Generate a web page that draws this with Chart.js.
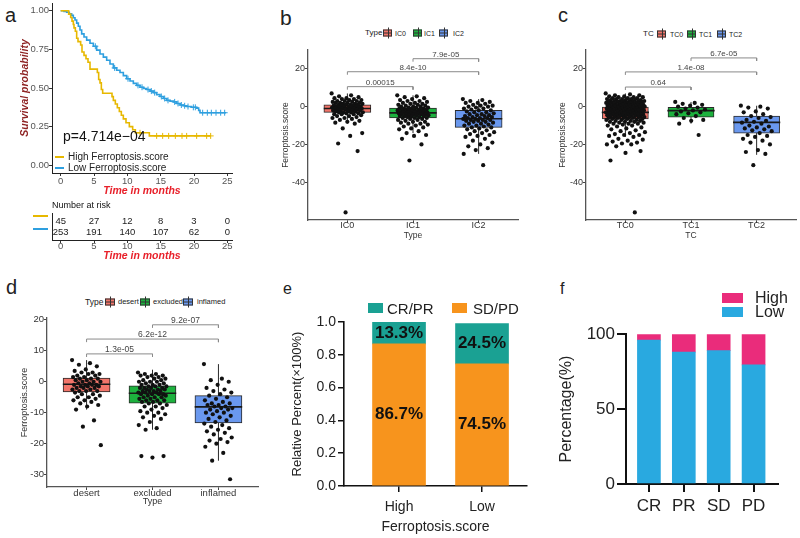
<!DOCTYPE html>
<html>
<head>
<meta charset="utf-8">
<script src="https://cdn.jsdelivr.net/npm/chart.js@4.4.1/dist/chart.umd.min.js"></script>
<style>
body{margin:0;background:#fff}
#wrap{position:relative;width:800px;height:538px;overflow:hidden;font-family:'Liberation Sans',Arial,sans-serif;color:#222}
#wrap canvas{position:absolute}
.t{position:absolute;line-height:1;white-space:nowrap;transform:translateY(-50%)}
.g{position:absolute;box-sizing:border-box;border:1px solid #333;transform:translateY(-50%)}
.g::before{content:'';position:absolute;left:0;right:0;top:50%;height:1px;margin-top:-0.5px;background:#333}
.g::after{content:'';position:absolute;left:50%;top:-3px;bottom:-3px;width:1px;background:#333}
.sw{position:absolute}
</style>
</head>
<body>
<div id="wrap">
  <canvas id="cA"></canvas>
  <canvas id="cR"></canvas>
  <canvas id="cB"></canvas>
  <canvas id="cC"></canvas>
  <canvas id="cD"></canvas>
  <canvas id="cE"></canvas>
  <canvas id="cF"></canvas>
</div>
<script>
// ---------- data ----------
// a: Kaplan-Meier
const hiTime = [0, 1.2, 1.5, 1.7, 1.9, 2.0, 2.2, 2.4, 2.6, 3.0, 3.2, 3.5, 3.8, 4.1, 4.4, 5.5, 5.7, 5.9, 6.1, 6.3, 7.7, 7.9, 8.2, 8.5, 8.8, 9.1, 9.4, 9.8, 10.3, 10.8, 11.2, 13.3, 22.5]
const hiSurv = [1, 0.978, 0.956, 0.933, 0.911, 0.889, 0.867, 0.822, 0.80, 0.778, 0.733, 0.711, 0.689, 0.667, 0.622, 0.60, 0.555, 0.533, 0.49, 0.466, 0.444, 0.42, 0.396, 0.372, 0.348, 0.324, 0.30, 0.275, 0.25, 0.23, 0.21, 0.19, 0.19]
const loTime = [0, 0.5, 0.9, 1.3, 1.65, 1.9, 2.15, 2.4, 2.65, 2.9, 3.15, 3.5, 3.9, 4.4, 4.9, 5.4, 5.9, 6.4, 6.9, 7.4, 7.9, 8.4, 8.9, 9.4, 9.9, 10.4, 10.9, 11.4, 11.9, 12.4, 12.9, 13.4, 13.9, 14.4, 14.9, 15.4, 15.9, 16.4, 16.9, 17.4, 17.9, 18.4, 18.9, 19.6, 20.4, 20.7, 20.9, 24.8]
const loSurv = [1, 0.996, 0.99, 0.98, 0.97, 0.955, 0.94, 0.92, 0.90, 0.875, 0.85, 0.83, 0.81, 0.79, 0.77, 0.745, 0.72, 0.70, 0.68, 0.655, 0.63, 0.615, 0.60, 0.58, 0.56, 0.545, 0.53, 0.517, 0.505, 0.497, 0.49, 0.48, 0.47, 0.457, 0.445, 0.432, 0.42, 0.415, 0.41, 0.40, 0.39, 0.385, 0.38, 0.375, 0.37, 0.355, 0.34, 0.34]
const hiCensor = [11.9, 14.4, 15.3, 16.2, 17.2, 18.2, 18.9, 20.4, 21.9, 22.5]
const loCensor = [5.2, 8.1, 10.1, 11.6, 12.2, 13.1, 13.6, 14.1, 15.1, 15.6, 16.1, 17.1, 17.6, 18.1, 18.6, 19.1, 19.9, 20.2, 21.3, 22.0, 22.6, 23.3, 24.0, 24.6]
const kmTicksX = [0, 5, 10, 15, 20, 25]
const kmTicksY = [0, 0.25, 0.5, 0.75, 1]
const riskTimes = [0, 5, 10, 15, 20, 25]
const riskHigh = [45, 27, 12, 8, 3, 0]
const riskLow = [253, 191, 140, 107, 62, 0]

// b: IC groups
const icCats = ['IC0', 'IC1', 'IC2']
const icIC0 = [7, 6, 5.5, 5, 4.5, 4.5, 4, 4, 3.5, 3.5, 3, 3, 3, 2.5, 2.5, 2, 2, 2, 2, 1.5, 1.5, 1.5, 1, 1, 1, 1, 0.5, 0.5, 0.5, 0, 0, 0, 0, 0, -0.5, -0.5, -0.5, -0.5, -1, -1, -1, -1, -1, -1.5, -1.5, -1.5, -1.5, -2, -2, -2, -2, -2.5, -2.5, -2.5, -3, -3, -3, -3, -3.5, -3.5, -4, -4, -4, -4.5, -5, -5, -5.5, -6, -6, -6.5, -7, -7.5, -8, -8.5, -9, -11.5, -14, -15.5, -19.5, -23.5, -56]
const icIC1 = [6, 5.5, 5, 4.5, 4, 3.5, 3, 3, 2.5, 2, 2, 1.5, 1.5, 1, 1, 0.5, 0.5, 0, 0, 0, -0.5, -0.5, -0.5, -1, -1, -1, -1, -1.5, -1.5, -1.5, -2, -2, -2, -2, -2, -2.5, -2.5, -2.5, -2.5, -3, -3, -3, -3, -3, -3, -3.5, -3.5, -3.5, -3.5, -4, -4, -4, -4, -4, -4.5, -4.5, -4.5, -5, -5, -5, -5, -5.5, -5.5, -6, -6, -6, -6.5, -6.5, -7, -7, -7.5, -8, -8, -8.5, -9, -9, -9.5, -10, -10.5, -11, -11.5, -12, -13, -14, -15, -15.5, -17, -20, -28.5]
const icIC2 = [4, 3.5, 3, 2.5, 2, 2, 1.5, 1, 0.5, 0.5, 0, 0, -0.5, -1, -1, -1.5, -2, -2, -2.5, -3, -3, -3.5, -4, -4, -4.5, -4.5, -5, -5, -5.5, -5.5, -6, -6, -6, -6.5, -6.5, -7, -7, -7, -7.5, -7.5, -8, -8, -8.5, -9, -9, -9.5, -10, -10, -10.5, -11, -11, -11.5, -12, -12.5, -13, -13.5, -14, -14.5, -15, -15.5, -16, -17, -18, -19, -20, -21, -22, -23, -25, -31]
const icLo = [-8.5, -14, -25]
const icQ1 = [-3, -6, -11]
const icMed = [-1, -3.3, -6.4]
const icQ3 = [1, -0.7, -2]
const icHi = [7, 6, 4]
const icSigY = [10.6, 18.5, 25.4]
const icSigLab = ['0.00015', '8.4e-10', '7.9e-05']

// c: TC groups
const tcCats = ['TC0', 'TC1', 'TC2']
const tcTC0 = [7, 6.5, 6, 6, 5.5, 5.5, 5, 5, 5, 4.5, 4.5, 4.5, 4, 4, 4, 4, 3.5, 3.5, 3.5, 3.5, 3, 3, 3, 3, 3, 2.5, 2.5, 2.5, 2.5, 2.5, 2, 2, 2, 2, 2, 2, 1.5, 1.5, 1.5, 1.5, 1.5, 1, 1, 1, 1, 1, 1, 0.5, 0.5, 0.5, 0.5, 0.5, 0, 0, 0, 0, 0, 0, -0.5, -0.5, -0.5, -0.5, -0.5, -1, -1, -1, -1, -1, -1, -1.5, -1.5, -1.5, -1.5, -1.5, -2, -2, -2, -2, -2, -2, -2.5, -2.5, -2.5, -2.5, -2.5, -3, -3, -3, -3, -3, -3, -3.5, -3.5, -3.5, -3.5, -3.5, -4, -4, -4, -4, -4, -4.5, -4.5, -4.5, -4.5, -5, -5, -5, -5, -5, -5.5, -5.5, -5.5, -5.5, -6, -6, -6, -6, -6.5, -6.5, -6.5, -7, -7, -7, -7.5, -7.5, -7.5, -8, -8, -8, -8.5, -8.5, -9, -9, -9, -9.5, -10, -10, -10.5, -11, -11.5, -12, -12.5, -13, -13.5, -14, -14.5, -15, -15, -15.5, -16, -17, -17.5, -18, -18.5, -19, -19.5, -20, -20, -21, -23.5, -24.5, -28.5, -56]
const tcTC1 = [2.5, 2, 1.5, 1, 0.5, 0, -0.5, -1, -1.5, -2, -2.5, -3, -3.5, -4, -5, -6, -7, -7.5, -9, -15]
const tcTC2 = [0.5, 0, -0.5, -1, -2.5, -3, -4, -5, -5.5, -6, -7, -7.5, -8, -8.5, -9, -10, -10.5, -11, -11.5, -12, -12.5, -13, -14, -15, -15.5, -16, -17, -18, -19, -20, -23, -24, -25, -31]
const tcLo = [-16, -9, -25.5]
const tcQ1 = [-6.5, -5.5, -14]
const tcMed = [-3, -2.1, -8.3]
const tcQ3 = [0, -0.3, -5]
const tcHi = [7, 2.5, 0.5]
const tcSigY = [10.4, 18.4, 25.8]
const tcSigLab = ['0.64', '1.4e-08', '6.7e-05']

// d: immune phenotype
const imCats = ['desert', 'excluded', 'inflamed']
const imDesert = [7, 6, 5.5, 5, 4, 3.5, 3, 3, 2.5, 2.5, 2, 2, 1.5, 1.5, 1, 1, 1, 0.5, 0.5, 0, 0, 0, -0.5, -0.5, -1, -1, -1, -1, -1.5, -1.5, -1.5, -2, -2, -2, -2.5, -2.5, -3, -3, -3, -3.5, -4, -4, -4.5, -5, -5, -5.5, -6, -6, -6.5, -7, -7.5, -8, -9, -12.5, -14.5, -20.5]
const imExcluded = [3, 2.5, 2.5, 2, 2, 2, 1.5, 1.5, 1, 1, 0.5, 0.5, 0, 0, 0, -0.5, -0.5, -1, -1, -1, -1.5, -1.5, -1.5, -2, -2, -2, -2, -2.5, -2.5, -2.5, -3, -3, -3, -3, -3.5, -3.5, -3.5, -4, -4, -4, -4, -4.5, -4.5, -5, -5, -5, -5.5, -5.5, -6, -6, -6, -6.5, -6.5, -7, -7, -7.5, -8, -8, -8.5, -9, -9.5, -10, -10, -10.5, -11, -11.5, -12, -13, -14, -15, -15.5, -24, -24.5, -24]
const imInflamed = [5.7, 1, 0.5, 0, -1, -2, -2.5, -3, -3.5, -4, -4.5, -5, -5.5, -6, -6.5, -7, -7, -7.5, -7.5, -8, -8, -8.5, -8.5, -9, -9, -9.5, -10, -10, -10.5, -11, -11.5, -12, -12.5, -13, -13.5, -14, -14.5, -15, -15.5, -16, -16.5, -17, -18, -18.5, -19, -19.5, -20, -21, -23, -25.5, -31.5]
const imLo = [-9, -15.5, -25.5]
const imQ1 = [-3.3, -6.9, -13.3]
const imMed = [-0.8, -3.7, -8.1]
const imQ3 = [1.2, -1.3, -4.5]
const imHi = [7, 3.9, 5.7]
const imSigY = [9.0, 13.8, 18.4]
const imSigLab = ['1.3e-05', '6.2e-12', '9.2e-07']

const sigPairs = [[1, 2], [1, 3], [2, 3]]
const boxTicks = [-40, -20, 0, 20]
const imTicks = [-30, -20, -10, 0, 10, 20]

// e: response by score group
const eCats = ['High', 'Low']
const eSDPD = [0.867, 0.745]
const eCRPR = [0.133, 0.245]
const eTicks = [0, 0.2, 0.4, 0.6, 0.8, 1.0]

// f: score group by response
const fCats = ['CR', 'PR', 'SD', 'PD']
const fLow = [96, 88, 89, 79.5]
const fHigh = [4, 12, 11, 20.5]
const fTicks = [0, 50, 100]

// ---------- helpers ----------
Chart.defaults.font.family = "'Liberation Sans', Arial, sans-serif"
Chart.defaults.color = '#333'
const wrap = document.getElementById('wrap')

function setup(id, L, T, R, B, yW, xH, padT, padR) {
  const c = document.getElementById(id)
  const left = L - yW, top = T - padT
  const w = R + padR - left, h = B + xH - top
  c.width = w; c.height = h
  c.style.left = left + 'px'; c.style.top = top + 'px'
  c.style.width = w + 'px'; c.style.height = h + 'px'
  return { ctx: c.getContext('2d'), pad: { top: padT, right: padR, left: 0, bottom: 0 } }
}
function base(pad) {
  return {
    responsive: false, animation: false, devicePixelRatio: 1,
    layout: { padding: pad },
    plugins: { legend: { display: false }, tooltip: { enabled: false } }
  }
}
function txt(x, y, s, css) {
  const d = document.createElement('div')
  d.className = 't'; d.textContent = s
  d.style.cssText = 'left:' + x + 'px;top:' + y + 'px;' + (css || '')
  wrap.appendChild(d)
}
function glyph(x, y, w, h, col) {
  const d = document.createElement('div')
  d.className = 'g'
  d.style.cssText = 'left:' + x + 'px;top:' + y + 'px;width:' + w + 'px;height:' + h + 'px;background:' + col
  wrap.appendChild(d)
}
function sw(x, y, w, h, col) {
  const d = document.createElement('div')
  d.className = 'sw'
  d.style.cssText = 'left:' + x + 'px;top:' + y + 'px;width:' + w + 'px;height:' + h + 'px;background:' + col
  wrap.appendChild(d)
}
function survAt(T, S, t) {
  let s = S[0]
  for (let i = 0; i < T.length; i++) if (T[i] <= t) s = S[i]
  return s
}
// spread for jittered dots (position only)
function jit(i, w) { return ((i * 0.6180339887) % 1 - 0.5) * 2 * w }
function fixTicks(vals) { return s => { s.ticks = vals.map(v => ({ value: v })) } }

// ---------- a: KM ----------
const A = setup('cA', 52, 3, 232, 173, 33, 24, 10, 8)
new Chart(A.ctx, {
  type: 'scatter',
  data: {
    datasets: [
      { type: 'line', data: hiTime.map((t, i) => ({ x: t, y: hiSurv[i] })), stepped: true, borderColor: '#E7B800', borderWidth: 1.6, pointRadius: 0 },
      { type: 'line', data: loTime.map((t, i) => ({ x: t, y: loSurv[i] })), stepped: true, borderColor: '#2E9FDF', borderWidth: 1.6, pointRadius: 0 },
      { data: hiCensor.map(t => ({ x: t, y: survAt(hiTime, hiSurv, t) })), pointStyle: 'cross', pointRadius: 3, borderColor: '#E7B800', borderWidth: 1 },
      { data: loCensor.map(t => ({ x: t, y: survAt(loTime, loSurv, t) })), pointStyle: 'cross', pointRadius: 3, borderColor: '#2E9FDF', borderWidth: 1 }
    ]
  },
  options: Object.assign(base(A.pad), {
    scales: {
      x: {
        type: 'linear', min: -1.3, max: 25.7, bounds: 'data',
        afterBuildTicks: fixTicks(kmTicksX), afterFit: s => { s.height = 24 },
        grid: { drawOnChartArea: false, tickLength: 3, color: '#333' },
        border: { color: '#222', width: 1 },
        ticks: { font: { size: 9.5 }, color: '#555', padding: 0, autoSkip: false, maxRotation: 0 },
        title: { display: true, text: 'Time in months', color: '#E8202A', font: { size: 10.5, weight: 'bold', style: 'italic' }, padding: 0 }
      },
      y: {
        min: -0.05, max: 1.05, bounds: 'data',
        afterBuildTicks: fixTicks(kmTicksY), afterFit: s => { s.width = 33 },
        grid: { drawOnChartArea: false, tickLength: 3, color: '#333' },
        border: { color: '#222', width: 1 },
        ticks: { font: { size: 9.5 }, color: '#555', padding: 0, callback: v => v.toFixed(2) },
        title: { display: true, text: 'Survival probability', color: '#8E2323', font: { size: 10.5, weight: 'bold', style: 'italic' }, padding: 0 }
      }
    }
  })
})

// risk table
const riskLabels = {
  id: 'riskLabels',
  afterDatasetsDraw(chart) {
    const ctx = chart.ctx
    ctx.save()
    ctx.font = "9.5px 'Liberation Sans', Arial, sans-serif"
    ctx.fillStyle = '#222'; ctx.textAlign = 'center'; ctx.textBaseline = 'middle'
    chart.data.datasets.forEach((ds, di) => {
      chart.getDatasetMeta(di).data.forEach((el, i) => ctx.fillText(String(ds.counts[i]), el.x, el.y))
    })
    ctx.restore()
  }
}
const R = setup('cR', 52, 213, 232, 240, 4, 22, 2, 8)
new Chart(R.ctx, {
  type: 'scatter',
  data: {
    datasets: [
      { data: riskTimes.map(t => ({ x: t, y: 2 })), counts: riskHigh, pointRadius: 0 },
      { data: riskTimes.map(t => ({ x: t, y: 1 })), counts: riskLow, pointRadius: 0 }
    ]
  },
  options: Object.assign(base(R.pad), {
    scales: {
      x: {
        type: 'linear', min: -1.3, max: 25.7, bounds: 'data',
        afterBuildTicks: fixTicks(riskTimes), afterFit: s => { s.height = 22 },
        grid: { drawOnChartArea: false, tickLength: 3, color: '#333' },
        border: { color: '#222', width: 1 },
        ticks: { font: { size: 9.5 }, color: '#555', padding: -2.5, autoSkip: false, maxRotation: 0 },
        title: { display: true, text: 'Time in months', color: '#E8202A', font: { size: 10.5, weight: 'bold', style: 'italic' }, padding: 0 }
      },
      y: {
        min: 0.3, max: 2.7, afterFit: s => { s.width = 4 },
        grid: { drawOnChartArea: false, drawTicks: false },
        border: { color: '#222', width: 1 },
        ticks: { display: false }
      }
    }
  }),
  plugins: [riskLabels]
})

// ---------- box plots b, c, d ----------
const sigLabels = {
  id: 'sigLabels',
  afterDatasetsDraw(chart, args, o) {
    const ctx = chart.ctx, x = chart.scales.x, y = chart.scales.y
    ctx.save()
    ctx.font = o.size + "px 'Liberation Sans', Arial, sans-serif"
    ctx.fillStyle = '#444'; ctx.textAlign = 'center'; ctx.textBaseline = 'alphabetic'
    o.labels.forEach((lab, k) => {
      const px = (x.getPixelForValue(sigPairs[k][0]) + x.getPixelForValue(sigPairs[k][1])) / 2
      ctx.fillText(lab, px, y.getPixelForValue(o.ys[k]) - 2)
    })
    ctx.restore()
  }
}

function boxChart(id, area, cats, groups, lo, q1, med, q3, hi, cols, sigY, sigLab, yMin, yMax, yTicks, o) {
  const S = setup(id, area[0], area[1], area[2], area[3], o.yW, o.xH, 10, o.padR)
  const BW = 0.72
  const dots = []
  groups.forEach((vals, g) => vals.forEach((v, i) => dots.push({ x: g + 1 + jit(i, o.jw[g]), y: v })))
  const meds = [], whisk = [], br = []
  cats.forEach((c, g) => {
    meds.push({ x: g + 1 - BW / 2, y: med[g] }, { x: g + 1 + BW / 2, y: med[g] }, { x: g + 1, y: null })
    whisk.push({ x: g + 1, y: lo[g] }, { x: g + 1, y: hi[g] }, { x: g + 1, y: null })
  })
  sigPairs.forEach((p, k) => {
    br.push({ x: p[0], y: sigY[k] - o.tk }, { x: p[0], y: sigY[k] }, { x: p[1], y: sigY[k] }, { x: p[1], y: sigY[k] - o.tk }, { x: p[1], y: null })
  })
  new Chart(S.ctx, {
    type: 'bar',
    data: {
      datasets: [
        { type: 'scatter', data: dots, pointRadius: 2.1, backgroundColor: '#111', borderWidth: 0, order: 0 },
        { type: 'line', data: meds, borderColor: '#1a1a1a', borderWidth: 1.6, pointRadius: 0, order: 1 },
        { type: 'bar', data: cats.map((c, g) => ({ x: g + 1, y: [q1[g], q3[g]] })), backgroundColor: cols, borderColor: '#2a2a2a', borderWidth: 1, borderSkipped: false, barThickness: o.barPx, order: 2 },
        { type: 'line', data: whisk, borderColor: '#2a2a2a', borderWidth: 1, pointRadius: 0, order: 3 },
        { type: 'line', data: br, borderColor: '#8a8a8a', borderWidth: 1, pointRadius: 0, order: 4 }
      ]
    },
    options: Object.assign(base(S.pad), {
      plugins: { legend: { display: false }, tooltip: { enabled: false }, sigLabels: { labels: sigLab, ys: sigY, size: o.sigSize } },
      scales: {
        x: {
          type: 'linear', min: 0.4, max: 3.6, offset: false, bounds: 'data',
          afterBuildTicks: fixTicks([1, 2, 3]), afterFit: s => { s.height = o.xH },
          grid: { drawOnChartArea: false, offset: false, tickLength: 3, color: '#444' },
          border: { color: '#555', width: 1.3 },
          ticks: { font: { size: o.tickSize }, color: '#333', padding: o.xPad, autoSkip: false, maxRotation: 0, callback: (v, i) => cats[i] },
          title: { display: true, text: o.xTitle, color: '#333', font: { size: o.titleSize }, padding: 0 }
        },
        y: {
          min: yMin, max: yMax, bounds: 'data',
          afterBuildTicks: fixTicks(yTicks), afterFit: s => { s.width = o.yW },
          grid: { drawOnChartArea: false, tickLength: 3, color: '#444' },
          border: { color: '#555', width: 1.3 },
          ticks: { font: { size: o.tickSize }, color: '#333', padding: 0 },
          title: { display: true, text: 'Ferroptosis.score', color: '#333', font: { size: o.titleSize }, padding: 0 }
        }
      }
    }),
    plugins: [sigLabels]
  })
}

const boxCols = ['#F2756A', '#1DB13E', '#6A98EE']
boxChart('cB', [308, 50, 518, 220], icCats, [icIC0, icIC1, icIC2], icLo, icQ1, icMed, icQ3, icHi, boxCols,
  icSigY, icSigLab, -60, 30, boxTicks,
  { yW: 27, xH: 21, padR: 6, jw: [0.24, 0.24, 0.24], tk: 1.6, barPx: 47, tickSize: 9, titleSize: 8.5, xPad: -3, sigSize: 8, xTitle: 'Type' })
boxChart('cC', [586, 50, 797, 220], tcCats, [tcTC0, tcTC1, tcTC2], tcLo, tcQ1, tcMed, tcQ3, tcHi, boxCols,
  tcSigY, tcSigLab, -60, 30, boxTicks,
  { yW: 28, xH: 21, padR: 3, jw: [0.3, 0.24, 0.24], tk: 1.6, barPx: 46, tickSize: 9, titleSize: 8.5, xPad: -3, sigSize: 8, xTitle: 'TC' })
boxChart('cD', [47, 318, 258, 487], imCats, [imDesert, imExcluded, imInflamed], imLo, imQ1, imMed, imQ3, imHi, boxCols,
  imSigY, imSigLab, -34, 20.6, imTicks,
  { yW: 28, xH: 20, padR: 6, jw: [0.22, 0.22, 0.22], tk: 1.0, barPx: 47, tickSize: 9.5, titleSize: 9, xPad: -2, sigSize: 8.5, xTitle: 'Type' })

// ---------- e: stacked percent ----------
const segLabels = {
  id: 'segLabels',
  afterDatasetsDraw(chart) {
    const ctx = chart.ctx
    ctx.save()
    ctx.font = "bold 17px 'Liberation Sans', Arial, sans-serif"
    ctx.fillStyle = '#111'; ctx.textAlign = 'center'; ctx.textBaseline = 'middle'
    chart.data.datasets.forEach((ds, di) => {
      chart.getDatasetMeta(di).data.forEach((el, i) => {
        ctx.fillText((ds.data[i].y * 100).toFixed(1) + '%', el.x, (el.y + el.base) / 2)
      })
    })
    ctx.restore()
  }
}
const E = setup('cE', 344, 322, 527, 486, 54, 50, 12, 6)
new Chart(E.ctx, {
  type: 'bar',
  data: {
    datasets: [
      { label: 'SD/PD', data: eSDPD.map((v, i) => ({ x: i + 1, y: v })), backgroundColor: '#F7941D', barThickness: 53 },
      { label: 'CR/PR', data: eCRPR.map((v, i) => ({ x: i + 1, y: v })), backgroundColor: '#1AA193', barThickness: 53 }
    ]
  },
  options: Object.assign(base(E.pad), {
    scales: {
      x: {
        type: 'linear', min: 0.337, max: 2.542, offset: false, stacked: true, bounds: 'data',
        afterBuildTicks: fixTicks([1, 2]), afterFit: s => { s.height = 50 },
        grid: { drawOnChartArea: false, offset: false, tickLength: 6, color: '#111', lineWidth: 1.5 },
        border: { color: '#111', width: 1.6 },
        ticks: { font: { size: 14 }, color: '#222', padding: 7, autoSkip: false, maxRotation: 0, callback: (v, i) => eCats[i] },
        title: { display: true, text: 'Ferroptosis.score', color: '#222', font: { size: 14 }, padding: 0 }
      },
      y: {
        min: 0, max: 1, stacked: true, bounds: 'data',
        afterBuildTicks: fixTicks(eTicks), afterFit: s => { s.width = 54 },
        grid: { drawOnChartArea: false, tickLength: 6, color: '#111', lineWidth: 1.5 },
        border: { color: '#111', width: 1.6 },
        ticks: { font: { size: 14 }, color: '#222', padding: 2, callback: v => v.toFixed(1) },
        title: { display: true, text: 'Relative Percent(×100%)', color: '#222', font: { size: 13 }, padding: 0 }
      }
    }
  }),
  plugins: [segLabels]
})

// ---------- f: stacked percentage ----------
const F = setup('cF', 626, 334, 778, 484, 69, 30, 12, 6)
new Chart(F.ctx, {
  type: 'bar',
  data: {
    datasets: [
      { label: 'Low', data: fLow.map((v, i) => ({ x: i + 1, y: v })), backgroundColor: '#29A9E0', barThickness: 23 },
      { label: 'High', data: fHigh.map((v, i) => ({ x: i + 1, y: v })), backgroundColor: '#EA2C7B', barThickness: 23 }
    ]
  },
  options: Object.assign(base(F.pad), {
    scales: {
      x: {
        type: 'linear', min: 0.343, max: 4.7, offset: false, stacked: true, bounds: 'data',
        afterBuildTicks: fixTicks([1, 2, 3, 4]), afterFit: s => { s.height = 30 },
        grid: { drawOnChartArea: false, offset: false, tickLength: 8, color: '#111', lineWidth: 2 },
        border: { color: '#111', width: 2 },
        ticks: { font: { size: 17 }, color: '#222', padding: 4, autoSkip: false, maxRotation: 0, callback: (v, i) => fCats[i] },
      },
      y: {
        min: 0, max: 100, stacked: true, bounds: 'data',
        afterBuildTicks: fixTicks(fTicks), afterFit: s => { s.width = 69 },
        grid: { drawOnChartArea: false, tickLength: 9, color: '#111', lineWidth: 2 },
        border: { color: '#111', width: 2 },
        ticks: { font: { size: 17 }, color: '#222', padding: 2 },
        title: { display: true, text: 'Percentage(%)', color: '#222', font: { size: 16 }, padding: 0 }
      }
    }
  })
})

// ---------- panel letters, legends, annotations ----------
txt(5, 15, 'a', 'font-size:20px')
txt(280, 17, 'b', 'font-size:21px')
txt(558, 15, 'c', 'font-size:20px')
txt(6, 287, 'd', 'font-size:20px')
txt(283, 289, 'e', 'font-size:16px')
txt(560, 289, 'f', 'font-size:16px')

// a
txt(63, 136, 'p=4.714e\u221204', 'font-size:14px;color:#111')
sw(55, 156, 9, 2, '#E7B800')
sw(55, 167, 9, 2, '#2E9FDF')
txt(68, 157, 'High Ferroptosis.score', 'font-size:10px;color:#222')
txt(68, 168, 'Low Ferroptosis.score', 'font-size:10px;color:#222')
txt(52, 205, 'Number at risk', 'font-size:9px;color:#111')
sw(33, 215, 15, 2, '#E7B800')
sw(33, 228, 15, 2, '#2E9FDF')

// b legend
txt(365, 33, 'Type', 'font-size:8px')
glyph(383, 33, 9, 7, boxCols[0]); txt(395, 33, 'IC0', 'font-size:7px')
glyph(413, 33, 9, 7, boxCols[1]); txt(424, 33, 'IC1', 'font-size:7px')
glyph(439, 33, 9, 7, boxCols[2]); txt(453, 33, 'IC2', 'font-size:7px')
// c legend
txt(643, 34, 'TC', 'font-size:8px')
glyph(657, 34, 9, 7, boxCols[0]); txt(670, 34, 'TC0', 'font-size:7px')
glyph(687, 34, 9, 7, boxCols[1]); txt(699, 34, 'TC1', 'font-size:7px')
glyph(717, 34, 9, 7, boxCols[2]); txt(729, 34, 'TC2', 'font-size:7px')
// d legend
txt(85, 302, 'Type', 'font-size:8.5px')
glyph(105, 302, 10, 7, boxCols[0]); txt(118, 302, 'desert', 'font-size:7.5px')
glyph(140, 302, 10, 7, boxCols[1]); txt(153, 302, 'excluded', 'font-size:7.5px')
glyph(183, 302, 10, 7, boxCols[2]); txt(197, 302, 'inflamed', 'font-size:7.5px')
// e legend
sw(368, 303, 15, 10, '#1AA193'); txt(387, 308, 'CR/PR', 'font-size:15px')
sw(452, 303, 15, 10, '#F7941D'); txt(473, 308, 'SD/PD', 'font-size:15px')
// f legend
sw(722, 293, 21, 10, '#EA2C7B'); txt(755, 298, 'High', 'font-size:16px')
sw(722, 307, 21, 10, '#29A9E0'); txt(755, 312, 'Low', 'font-size:16px')
</script>
</body>
</html>
